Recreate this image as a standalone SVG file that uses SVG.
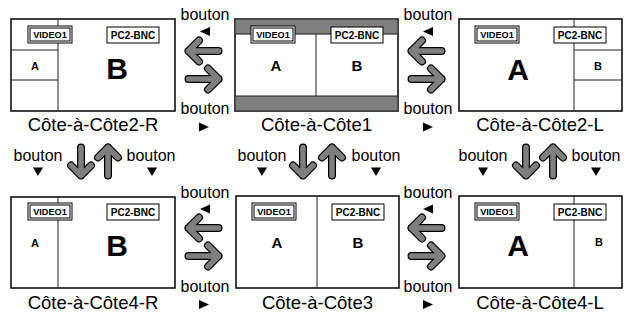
<svg xmlns="http://www.w3.org/2000/svg" xmlns:xlink="http://www.w3.org/1999/xlink" width="628" height="320" viewBox="0 0 628 320">
<style>
.frame{fill:#fff;stroke:#000;stroke-width:1.5}
.div{stroke:#222;stroke-width:1;fill:none}
.band{fill:#7f7f7f;stroke:none}
.lbl{fill:#fff;stroke:#000;stroke-width:1}
.lt{font-family:"Liberation Sans",Arial,sans-serif;font-weight:bold;font-size:10px;text-anchor:middle}
.lv{font-family:"Liberation Sans",Arial,sans-serif;font-weight:bold;font-size:9.2px;text-anchor:middle}
.sm{font-family:"Liberation Sans",Arial,sans-serif;font-weight:bold;font-size:11px;text-anchor:middle}
.md{font-family:"Liberation Sans",Arial,sans-serif;font-weight:bold;font-size:15px;text-anchor:middle}
.lg{font-family:"Liberation Sans",Arial,sans-serif;font-weight:bold;font-size:30px;text-anchor:middle}
.cap{font-family:"Liberation Sans",Arial,sans-serif;font-size:18.5px;text-anchor:middle}
.bt{font-family:"Liberation Sans",Arial,sans-serif;font-size:16px;text-anchor:middle}
.tri{fill:#000}
.ao{fill:none;stroke:#000;stroke-width:8;stroke-linecap:round;stroke-linejoin:round}
.ai{fill:none;stroke:#7f7f7f;stroke-width:5.5;stroke-linecap:round;stroke-linejoin:round}
</style>
<defs>
<g id="arr">
<path class="ao" d="M-15 0H15M4.5 -10.5L15 0L4.5 10.5"/>
<path class="ai" d="M-15 0H15M4.5 -10.5L15 0L4.5 10.5"/>
</g>
<g id="varr">
<path class="ao" d="M-14 0H14M4 -10L14 0L4 10"/>
<path class="ai" d="M-14 0H14M4 -10L14 0L4 10"/>
</g>
<g id="vid">
<rect class="lbl" x="0" y="0" width="44" height="17"/>
<rect class="lbl" x="2" y="2" width="40" height="13"/>
<text class="lv" x="22" y="12">VIDEO1</text>
</g>
<g id="pc">
<rect class="lbl" x="0" y="0" width="52" height="16"/>
<text class="lt" x="26" y="11.5">PC2-BNC</text>
</g>
<polygon id="tl" class="tri" points="-5,0 5,-4.5 5,4.5"/>
<polygon id="tr" class="tri" points="5,0 -5,-4.5 -5,4.5"/>
<polygon id="td" class="tri" points="0,4.5 -5,-4 5,-4"/>
</defs>

<g id="node-cac2r">
<rect class="frame" x="11" y="19" width="164" height="92"/>
<path class="div" d="M58 19V111M11 50H58M11 80H58"/>
<use xlink:href="#vid" x="28" y="26"/>
<use xlink:href="#pc" x="107" y="27"/>
<text class="sm" x="35" y="69.5">A</text>
<text class="lg" x="117" y="78.5">B</text>
<text class="cap" x="93" y="131">Côte-à-Côte2-R</text>
</g>

<g id="node-cac1">
<rect class="frame" x="235" y="19" width="163" height="92"/>
<rect class="band" x="235.75" y="19.75" width="161.5" height="14.5"/>
<rect class="band" x="235.75" y="96" width="161.5" height="14.25"/>
<path class="div" d="M235 34H398M235 96H398M316 34V96"/>
<use xlink:href="#vid" x="251" y="26"/>
<use xlink:href="#pc" x="331" y="27"/>
<text class="md" x="276" y="71">A</text>
<text class="md" x="357" y="71">B</text>
<text class="cap" x="316.5" y="131">Côte-à-Côte1</text>
</g>

<g id="node-cac2l">
<rect class="frame" x="459" y="19" width="163" height="92"/>
<path class="div" d="M574 19V111M574 50H622M574 80H622"/>
<use xlink:href="#vid" x="475" y="26"/>
<use xlink:href="#pc" x="554" y="27"/>
<text class="lg" x="518" y="79.5">A</text>
<text class="sm" x="598" y="69.5">B</text>
<text class="cap" x="540" y="131">Côte-à-Côte2-L</text>
</g>

<g id="node-cac4r">
<rect class="frame" x="11" y="197" width="164" height="91"/>
<path class="div" d="M58 197V288"/>
<use xlink:href="#vid" x="28" y="203"/>
<use xlink:href="#pc" x="107" y="204"/>
<text class="sm" x="35" y="247">A</text>
<text class="lg" x="117" y="255.5">B</text>
<text class="cap" x="93" y="309">Côte-à-Côte4-R</text>
</g>

<g id="node-cac3">
<rect class="frame" x="236" y="196" width="163" height="92"/>
<path class="div" d="M317 196V288"/>
<use xlink:href="#vid" x="252" y="203"/>
<use xlink:href="#pc" x="332" y="204"/>
<text class="md" x="277" y="248">A</text>
<text class="md" x="358" y="248">B</text>
<text class="cap" x="317.5" y="309">Côte-à-Côte3</text>
</g>

<g id="node-cac4l">
<rect class="frame" x="459" y="196" width="163" height="92"/>
<path class="div" d="M574 196V288"/>
<use xlink:href="#vid" x="475" y="203"/>
<use xlink:href="#pc" x="554" y="204"/>
<text class="lg" x="518" y="255.5">A</text>
<text class="sm" x="599" y="246">B</text>
<text class="cap" x="540" y="309">Côte-à-Côte4-L</text>
</g>

<g id="connectors">
<use xlink:href="#arr" transform="translate(203.5,51) rotate(180)"/>
<use xlink:href="#arr" transform="translate(203.5,79)"/>
<use xlink:href="#arr" transform="translate(426.5,51) rotate(180)"/>
<use xlink:href="#arr" transform="translate(426.5,79)"/>
<use xlink:href="#arr" transform="translate(203.5,228) rotate(180)"/>
<use xlink:href="#arr" transform="translate(203.5,256)"/>
<use xlink:href="#arr" transform="translate(426.5,228) rotate(180)"/>
<use xlink:href="#arr" transform="translate(426.5,256)"/>
<use xlink:href="#varr" transform="translate(81,161.5) rotate(90)"/>
<use xlink:href="#varr" transform="translate(108,161.5) rotate(-90)"/>
<use xlink:href="#varr" transform="translate(303,161.5) rotate(90)"/>
<use xlink:href="#varr" transform="translate(332,161.5) rotate(-90)"/>
<use xlink:href="#varr" transform="translate(526,161.5) rotate(90)"/>
<use xlink:href="#varr" transform="translate(553,161.5) rotate(-90)"/>
</g>

<g id="labels">
<text class="bt" x="205" y="20">bouton</text>
<use xlink:href="#tl" x="205" y="31.5"/>
<text class="bt" x="205" y="114">bouton</text>
<use xlink:href="#tr" x="204" y="127"/>
<text class="bt" x="428" y="20">bouton</text>
<use xlink:href="#tl" x="428" y="31.5"/>
<text class="bt" x="428" y="114">bouton</text>
<use xlink:href="#tr" x="428" y="127"/>

<text class="bt" x="205" y="197.5">bouton</text>
<use xlink:href="#tl" x="205" y="209"/>
<text class="bt" x="205" y="291.5">bouton</text>
<use xlink:href="#tr" x="204" y="304.5"/>
<text class="bt" x="428" y="197.5">bouton</text>
<use xlink:href="#tl" x="428" y="209"/>
<text class="bt" x="428" y="291.5">bouton</text>
<use xlink:href="#tr" x="428" y="304.5"/>

<text class="bt" x="38" y="161">bouton</text>
<use xlink:href="#td" x="38" y="171.5"/>
<text class="bt" x="151" y="161">bouton</text>
<use xlink:href="#td" x="152" y="171.5"/>
<text class="bt" x="262" y="161">bouton</text>
<use xlink:href="#td" x="262" y="171.5"/>
<text class="bt" x="376" y="161">bouton</text>
<use xlink:href="#td" x="376" y="171.5"/>
<text class="bt" x="483" y="161">bouton</text>
<use xlink:href="#td" x="483" y="171.5"/>
<text class="bt" x="596" y="161">bouton</text>
<use xlink:href="#td" x="596" y="171.5"/>
</g>
</svg>
